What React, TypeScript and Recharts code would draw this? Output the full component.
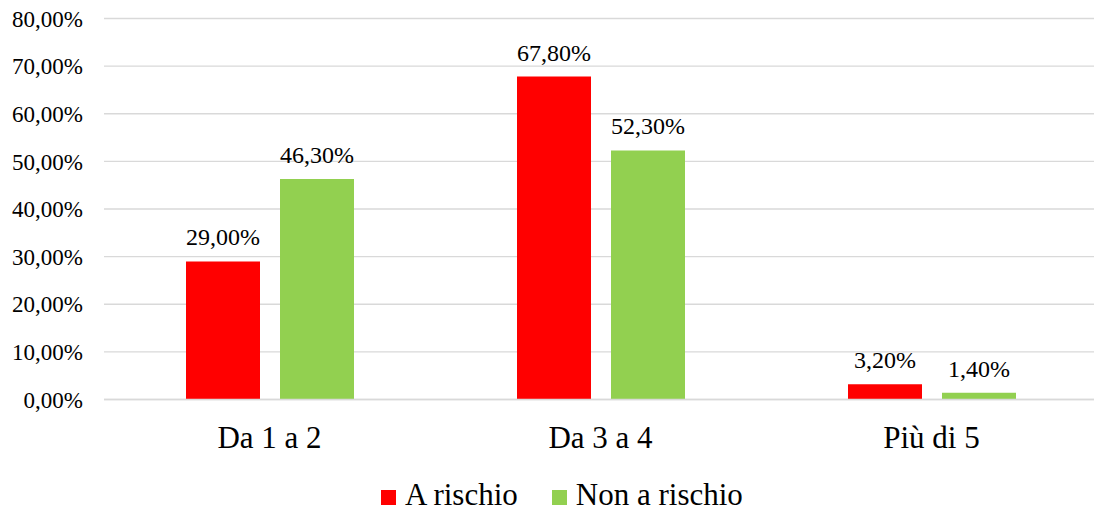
import { BarChart, Bar, XAxis, YAxis, CartesianGrid, LabelList } from "recharts"

const categories = ["Da 1 a 2", "Da 3 a 4", "Più di 5"]
const aRischio = [29.0, 67.8, 3.2]
const nonARischio = [46.3, 52.3, 1.4]
const yTicks = [0, 10, 20, 30, 40, 50, 60, 70, 80]

const series = [
  { key: "aRischio", name: "A rischio", color: "#FF0000" },
  { key: "nonARischio", name: "Non a rischio", color: "#92D050" },
]

const data = categories.map((cat, i) => ({
  cat,
  aRischio: aRischio[i],
  nonARischio: nonARischio[i],
}))

const font = '"Liberation Serif", "Times New Roman", serif'
const pct = (v: number) => v.toFixed(2).replace(".", ",") + "%"

export default function App() {
  return (
    <div
      style={{
        position: "absolute",
        left: 0,
        top: 0,
        width: 1094,
        height: 511,
        overflow: "hidden",
        background: "#fff",
        fontFamily: font,
      }}
    >
      {/* force the serif face on every svg text node */}
      <style>{`svg text { font-family: ${font} !important; }`}</style>
      <BarChart
        width={1100}
        height={511}
        data={data}
        margin={{ top: 18.5, right: 3, left: 0, bottom: 51.5 }}
        barSize={74}
        barGap={20}
      >
        <CartesianGrid vertical={false} stroke="#d9d9d9" strokeWidth={1.3} />
        <XAxis
          dataKey="cat"
          height={60}
          axisLine={{ stroke: "#d9d9d9", strokeWidth: 1.3 }}
          tickLine={false}
          tickSize={0}
          tickMargin={26}
          tick={{ fill: "#000", fontSize: 31 }}
        />
        <YAxis
          width={104}
          domain={[0, 80]}
          ticks={yTicks}
          axisLine={false}
          tickLine={false}
          tickSize={0}
          tickMargin={21}
          tickFormatter={pct}
          tick={{ fill: "#000", fontSize: 23 }}
        />
        {series.map((s) => (
          <Bar key={s.key} dataKey={s.key} name={s.name} fill={s.color} isAnimationActive={false}>
            <LabelList
              dataKey={s.key}
              position="top"
              offset={16}
              formatter={(v: any) => pct(Number(v))}
              fill="#000"
              fontSize={24}
            />
          </Bar>
        ))}
      </BarChart>
      {/* legend below the plot */}
      <div
        style={{
          position: "absolute",
          left: 381,
          top: 479,
          display: "flex",
          alignItems: "baseline",
          fontSize: 31,
          lineHeight: "31px",
          color: "#000",
          whiteSpace: "nowrap",
        }}
      >
        {series.map((s, i) => (
          <div key={s.key} style={{ display: "flex", alignItems: "baseline", marginLeft: i ? 34 : 0 }}>
            <span style={{ display: "inline-block", width: 15, height: 15, background: s.color, marginRight: 9 }} />
            <span>{s.name}</span>
          </div>
        ))}
      </div>
    </div>
  )
}
